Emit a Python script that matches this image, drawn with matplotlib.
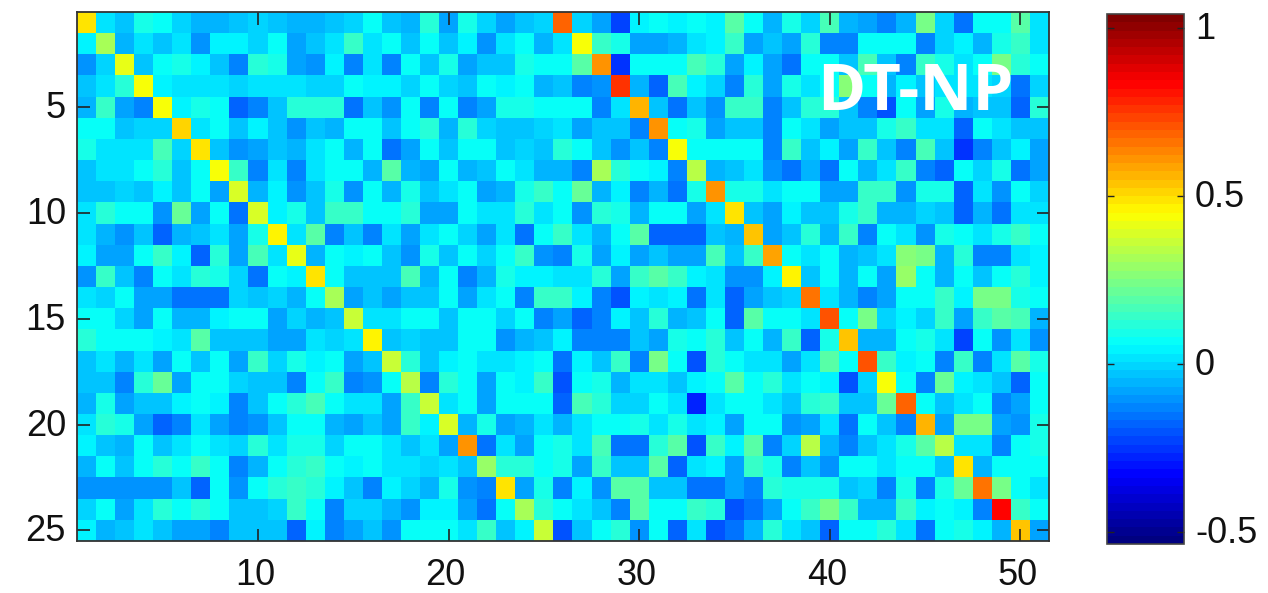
import numpy as np
import matplotlib
matplotlib.use("Agg")
import matplotlib.pyplot as plt
from matplotlib.colors import LinearSegmentedColormap
from matplotlib.transforms import Affine2D

# correlation values in hundredths, one list per row
row_01 = [50,3,-2,9,6,0,-6,-6,-3,-1,-4,-6,-5,-4,0,6,-3,-6,12,-7,9,-1,-7,-2,0,68,0,-7,-23,4,6,5,6,5,20,6,-6,10,0,17,-5,-7,-13,-6,25,-1,-16,6,8,20,2]
row_02 = [4,32,-6,3,-2,1,-10,4,4,-1,6,-7,-2,2,15,1,6,-4,8,-3,4,-10,3,8,-6,3,45,15,10,-7,-9,-5,2,4,15,-7,-4,-8,12,-12,-13,6,7,6,-13,-1,4,-5,10,15,1]
row_03 = [-10,0,42,-4,6,10,4,-4,-13,12,9,-7,-10,4,-13,3,-13,8,-4,10,-9,-2,-3,10,8,6,19,60,-25,7,8,8,17,12,-8,4,-7,-15,6,6,-2,17,-2,-13,14,9,3,8,25,12,6]
row_04 = [-2,3,11,43,4,1,1,3,0,2,2,1,0,0,8,5,4,-1,8,0,-3,6,4,8,-5,-4,-12,-10,75,-6,-19,17,4,0,-13,12,-7,10,3,6,26,7,-6,4,-4,1,3,3,-1,-16,-1]
row_05 = [-5,15,-7,-12,45,4,10,6,-19,-12,-2,11,13,13,-15,-3,-10,7,-12,8,-12,-7,10,10,8,6,8,-13,2,57,-4,-15,-2,-10,15,14,-13,-2,12,11,-2,-12,-21,6,-8,9,-5,-2,-2,-17,13]
row_06 = [6,8,-4,-1,-1,52,2,7,-2,5,-2,-10,-3,-6,8,6,-3,6,12,-6,12,-1,-4,-3,-1,2,-7,-4,-2,-13,62,6,9,-7,-2,-2,-12,8,1,-7,-3,-4,9,14,3,3,-19,6,3,-3,-3]
row_07 = [10,3,3,3,17,-1,50,-2,-10,-7,-3,-6,3,7,-6,8,-15,-8,6,-4,7,6,-3,0,-2,13,6,-3,-10,-2,-12,45,6,6,8,8,-12,15,-4,5,-8,14,-2,-14,17,-3,-26,-12,-4,5,-7]
row_08 = [-4,1,1,7,12,-2,8,43,14,-12,1,-12,2,6,7,-5,18,-6,-7,8,-6,-4,6,1,-6,-6,-12,32,13,6,4,-12,35,-5,-2,1,-10,-15,-5,-15,6,-6,3,14,-12,-17,6,-1,10,-15,-8]
row_09 = [-3,-3,0,-4,4,-3,8,-8,38,-6,4,-10,-3,10,-10,6,-6,10,-4,3,6,-7,-5,10,14,6,22,-5,4,-12,-6,-15,9,60,10,10,3,7,6,-7,-7,15,15,-10,10,10,-17,1,-10,8,-1]
row_10 = [1,13,8,8,-10,22,-8,8,-15,38,4,10,-3,15,15,6,7,11,-7,-8,6,1,1,13,2,6,-10,12,10,-6,6,6,-7,1,50,-3,-7,4,-3,-4,9,15,-5,-5,-1,-2,-19,-5,-15,2,2]
row_11 = [1,-5,-10,-3,-17,-5,-2,3,-7,10,46,1,18,-13,-2,-13,1,-7,1,6,-1,-8,1,-15,6,15,1,-6,8,18,-17,-17,-17,-2,-6,54,-7,-2,13,-6,14,-12,6,3,-10,10,8,2,10,14,6]
row_12 = [4,-7,-7,8,14,4,-17,13,-8,16,3,42,-5,6,5,6,-2,-10,10,-4,8,-1,8,15,-10,-14,10,-7,5,-7,-2,-7,-9,17,-2,14,58,8,2,6,-6,-3,1,27,24,-6,13,-12,-14,1,4]
row_13 = [-10,14,-2,-12,8,1,13,9,-1,-16,6,5,50,6,-3,-3,-4,17,-6,6,-14,-6,10,5,5,2,2,13,-7,14,18,14,4,3,-10,-10,4,46,-4,6,-6,8,-7,29,8,-6,8,-4,8,13,5]
row_14 = [3,-1,8,-7,-7,-16,-16,-15,0,-2,-1,-6,8,32,-8,-4,-7,-2,-2,6,-7,2,6,-12,15,15,4,-14,-20,4,3,4,-15,2,-19,-9,-3,0,66,2,-6,-13,-7,8,8,15,5,24,24,9,8]
row_15 = [8,6,-1,-8,8,-6,-5,5,7,6,-7,0,-6,-2,37,3,2,6,8,-4,6,7,-1,6,-12,-9,-17,-13,5,-2,13,-5,-3,8,-17,18,6,6,2,70,8,23,-1,4,0,15,-7,15,18,16,-5]
row_16 = [13,6,6,8,5,3,20,-2,-3,-4,-7,-7,1,-1,3,46,-4,-1,-2,-4,8,8,-10,-5,-3,5,-12,-13,-12,-2,-7,10,8,12,-3,6,-6,14,-17,10,54,-6,-6,8,10,1,-23,6,-10,1,-10]
row_17 = [-4,2,-5,2,-7,6,-2,6,-7,15,0,10,5,6,-8,-2,37,13,-4,4,8,3,3,4,8,-16,4,-2,14,-13,23,8,-21,13,6,3,3,-9,3,20,6,72,15,4,8,-12,14,-12,2,18,10]
row_18 = [-4,-2,-12,13,22,-8,6,6,-1,-3,-3,-12,8,15,-12,-10,8,34,-13,13,6,-8,8,4,15,-21,6,10,-6,3,3,-2,4,6,20,8,11,3,8,4,-21,0,45,8,-12,22,4,3,-2,-17,8]
row_19 = [-5,10,-8,-2,-2,4,6,4,-14,-4,6,13,16,8,1,1,-7,15,37,3,6,-8,6,6,8,-17,16,13,-1,0,6,1,-27,2,6,6,3,-2,13,15,-2,-2,22,69,8,-2,1,8,-14,-8,8]
row_20 = [1,13,9,-8,-18,-13,1,-8,-13,-10,-2,8,8,-5,-8,-3,-9,14,5,40,-6,10,-8,-6,3,-6,3,7,6,10,1,10,3,4,-7,6,6,-10,-7,1,-15,6,-4,-12,57,-8,23,23,-8,-10,10]
row_21 = [4,-3,-6,8,-3,1,6,1,-1,11,2,10,10,0,8,6,2,-4,3,-8,60,-15,3,-8,6,10,1,16,-15,-15,13,18,-20,15,4,18,-12,-1,34,-6,-14,-4,3,10,20,33,1,1,-12,6,9]
row_22 = [-5,6,-2,6,12,6,15,8,-12,-5,6,13,15,8,5,6,2,3,0,1,-2,30,11,11,8,10,-7,14,-2,-2,18,-17,2,5,-7,14,10,-12,-4,-10,6,8,1,6,8,-2,50,-5,6,8,8]
row_23 = [-11,-11,-11,-10,-10,-4,-17,6,-10,8,13,15,13,4,-3,-13,5,0,-5,10,-10,-13,50,-8,9,-12,5,-10,18,18,-3,-3,-15,-15,-7,-13,13,9,9,9,-2,-1,-14,10,-13,10,22,66,23,6,2]
row_24 = [-1,6,-8,1,12,8,13,8,-2,-3,-1,15,8,-14,-1,-1,-5,-10,4,4,-7,-15,8,32,13,6,2,-2,-13,18,6,8,14,11,-20,-15,-8,8,15,23,14,-6,-6,15,4,6,5,-12,83,15,6]
row_25 = [4,-5,-2,1,-3,-7,-7,-14,-2,-2,-2,-19,5,-12,-7,-3,-10,6,6,6,3,15,-3,4,37,-21,-2,6,13,-10,6,-19,2,-21,-15,-5,13,1,-3,-17,6,6,13,2,-15,7,9,5,-6,54,-7]

rows = [row_01, row_02, row_03, row_04, row_05, row_06, row_07, row_08, row_09, row_10,
        row_11, row_12, row_13, row_14, row_15, row_16, row_17, row_18, row_19, row_20,
        row_21, row_22, row_23, row_24, row_25]
values = np.array(rows) / 100

x_ticks = [10, 20, 30, 40, 50]
y_ticks = [5, 10, 15, 20, 25]
bar_ticks = [-0.5, 0, 0.5, 1]
bar_labels = ['-0.5', '0', '0.5', '1']
vmin, vmax = -0.536, 1.043

# MATLAB style jet, cyan sits a bit higher than in matplotlib's version
matlab_jet = LinearSegmentedColormap('matlab_jet', {
    'red': [(0, 0, 0), (0.375, 0, 0), (0.625, 1, 1), (0.875, 1, 1), (1, 0.5, 0.5)],
    'green': [(0, 0, 0), (0.125, 0, 0), (0.375, 1, 1), (0.625, 1, 1), (0.875, 0, 0), (1, 0, 0)],
    'blue': [(0, 0.5, 0.5), (0.125, 1, 1), (0.375, 1, 1), (0.625, 0, 0), (1, 0, 0)],
}, N=64)

plt.rcParams['font.family'] = ['Liberation Sans', 'DejaVu Sans']
W, H = 1268, 593
fig = plt.figure(figsize=(W / 100, H / 100), dpi=100)

ax = fig.add_axes([77 / W, 1 - 541 / H, (1049 - 77) / W, (541 - 12) / H])
im = ax.imshow(values, cmap=matlab_jet, vmin=vmin, vmax=vmax, aspect='auto', interpolation='nearest',
               extent=[0.5, values.shape[1] + 0.5, values.shape[0] + 0.5, 0.5])
ax.set_xticks(x_ticks)
ax.set_yticks(y_ticks)
ax.tick_params(direction='in', top=True, right=True, length=9, width=1.2, labelsize=26,
               color='#222222', labelcolor='#111111', pad=8)
ax.tick_params(axis='x', pad=12)
for s in ax.spines.values():
    s.set_linewidth(1.3)
    s.set_color('#333333')

ax.text(915, H - 86, 'DT-NP', transform=None, color='white', fontsize=47, fontweight='bold',
        family='Open Sans', ha='center', va='center_baseline')

cax = fig.add_axes([1107 / W, 1 - 544 / H, (1184 - 1107) / W, (544 - 14) / H])
cb = fig.colorbar(im, cax=cax)
cb.set_ticks(bar_ticks)
cb.set_ticklabels(bar_labels)
cb.ax.tick_params(direction='in', left=True, right=True, length=5, width=1.0, labelsize=26,
                  color='#222222', labelcolor='#111111', pad=8)
cb.outline.set_linewidth(1.2)
cb.outline.set_edgecolor('#444444')

# small nudges of the tick labels, in pixels
for lab in ax.get_xticklabels():
    lab.set_transform(lab.get_transform() + Affine2D().translate(-3, 0))
for lab in ax.get_yticklabels() + cb.ax.get_yticklabels():
    lab.set_transform(lab.get_transform() + Affine2D().translate(0, 2.5))

fig.savefig('out.png', dpi=100)
